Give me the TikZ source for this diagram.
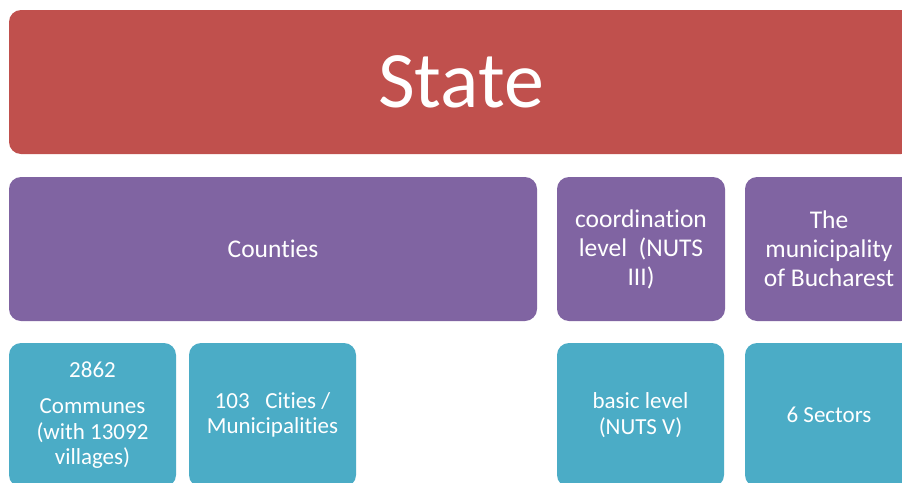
\documentclass[tikz,border=0pt]{standalone}
\usepackage{fontspec}
\setmainfont{Carlito}[Ligatures=NoCommon]
\definecolor{stateRed}{HTML}{C0504D}
\definecolor{levelPurple}{HTML}{8064A2}
\definecolor{unitTeal}{HTML}{4BACC6}
\begin{document}
\begin{tikzpicture}[x=1pt,y=-1pt,
  tile/.style={rounded corners=12pt, inner sep=0pt, align=center, text=white,
    minimum height=144pt},
  toptile/.style={tile, fill=levelPurple, font=\fontsize{25.5}{29}\selectfont},
  lowtile/.style={tile, fill=unitTeal, font=\fontsize{23}{25.5}\selectfont},
]
\clip (0,0) rectangle (902,482);
\fill[white] (0,0) rectangle (902,482);

% national level
\node[tile, fill=stateRed, minimum width=904pt, font=\fontsize{80}{84}\selectfont]
  (state) at (461,82) {State};

% middle level
\node[toptile, minimum width=528pt] (counties) at (273,249) {Counties};
\node[toptile, minimum width=168pt] (coord) at (641,249)
  {coordination\\level\ \ (NUTS\\III)};
\node[toptile, minimum width=168pt] (buch) at (829,249)
  {The\\municipality\\of Bucharest};

% local level
\node[lowtile, minimum width=167pt] (communes) at (92.5,415)
  {2862\\[11pt]Communes\\(with 13092\\villages)};
\node[lowtile, minimum width=167pt] (cities) at (272.5,415)
  {103\ \ \ Cities /\\Municipalities};
\node[lowtile, minimum width=167pt] (basic) at (640.5,415)
  {basic level\\(NUTS V)};
\node[lowtile, minimum width=168pt] (sectors) at (829,415) {6 Sectors};
\end{tikzpicture}
\end{document}
